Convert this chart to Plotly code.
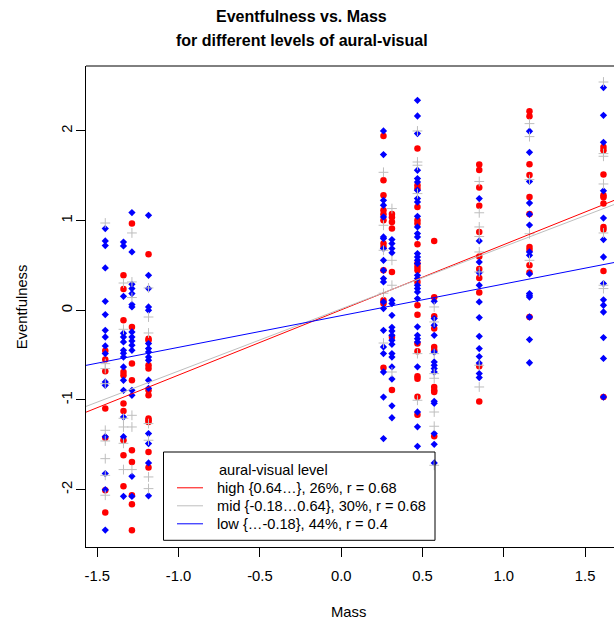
import plotly.graph_objects as go

# ---------------- data ----------------
mass_levels = [-1.451, -1.339, -1.287, -1.185, 0.260, 0.312, 0.469, 0.572, 0.849, 1.158, 1.613]

high_vals = [
    [-0.45, -0.55, -0.68, -1.096, -1.42, -2.007, -2.255],
    [0.39, 0.237, -0.111, -0.688, -0.725, -1.04, -1.123, -1.449, -1.617, -1.962],
    [0.967, -0.186, -0.594, -0.78, -1.561, -1.691, -2.062, -2.163, -2.453],
    [0.624, -0.316, -0.334, -0.613, -0.65, -0.892, -0.948, -1.207, -1.226, -1.245, -1.58, -1.754],
    [1.943, 1.449, 1.282, 1.115, 1.07, 1.003, 0.744, 0.706, 0.446, 0.111, 0.075, -0.641],
    [1.074, 1.037, 0.984, 0.911, 0.427, -0.298, -0.889],
    [1.803, 1.394, 1.357, 1.152, 1.003, 0.967, 0.736, 0.521, 0.483, 0.446, 0.316, 0.056, -0.05,
     -0.371, -0.457, -0.736, -0.764, -0.964, -1.165],
    [0.773, 0.145, -0.067, -0.204, -0.409, -0.446, -0.855, -0.892, -0.911, -1.405],
    [1.625, 1.564, 1.368, 1.165, 0.873, 0.6, 0.459, 0.359, 0.198, -0.624, -1.018],
    [2.219, 2.163, 1.628, 1.507, 1.263, 1.074, 0.706, 0.672, 0.502, 0.421, -0.075],
    [1.821, 1.784, 1.513, 1.282, 1.26, 1.19, 0.929, 0.9, 0.438, -0.967],
]

mid_vals = [
    [0.973, -0.595, -0.65, -0.818, -1.338, -1.457, -1.654, -1.84, -2.062],
    [0.304, -0.212, -1.204, -1.301, -1.483, -1.776],
    [0.862, 0.316, 0.142, -1.171, -1.301, -1.776],
    [0.249, -0.075, -0.253, -1.263, -1.449, -1.858, -1.988],
    [1.538, 0.948, 0.669, 0.19, -0.365],
    [1.134, 0.557, 0.279, -0.688],
    [1.999, 1.653, 1.617, 1.301, -0.483, -1.003],
    [0.037, -0.13, -0.483, -0.706, -0.758, -1.134, -1.293, -1.728],
    [1.436, 1.087, 0.929, 0.822, 0.65, 0.427, -0.613, -0.855],
    [2.081, 1.936, 1.457, 0.853, 0.557],
    [2.545, 1.747, 1.717, 1.408, 0.862, 0.279, 0.242],
]

low_vals = [
    [0.911, 0.773, 0.721, 0.472, 0.1, -0.048, -0.223, -0.298, -0.398, -0.483, -0.799, -0.836,
     -1.41, -1.82, -2.0, -2.45],
    [0.761, 0.717, 0.156, -0.256, -0.298, -0.353, -0.446, -0.479, -0.521, -0.632, -0.78, -0.892,
     -1.19, -1.41, -2.074],
    [1.089, 0.65, 0.29, 0.242, 0.186, 0.064, 0.037, -0.242, -0.298, -0.342, -0.39, -0.446,
     -0.892, -0.948, -1.851, -2.074],
    [1.059, 0.39, 0.242, 0.037, 0.0, -0.371, -0.427, -0.465, -0.521, -0.557, -0.78, -0.87,
     -1.375, -1.486, -1.702, -2.068],
    [1.999, 1.736, 1.226, 1.171, 1.04, 0.817, 0.799, 0.688, 0.557, 0.446, 0.353, 0.316, 0.093,
     0.019, -0.223, -0.409, -0.483, -0.688, -0.967, -1.43],
    [0.788, 0.744, 0.688, 0.641, 0.111, 0.075, -0.056, -0.19, -0.231, -0.279, -0.334, -0.379,
     -0.483, -0.521, -0.632, -0.766, -1.065, -1.198],
    [2.341, 2.166, 1.97, 1.561, 1.468, 1.43, 1.338, 1.245, 1.207, 1.048, 0.929, 0.855, 0.817,
     0.632, 0.594, 0.557, 0.521, 0.39, 0.353, 0.279, 0.242, 0.204, 0.13, -0.184, -0.279, -0.316,
     -0.353, -0.63, -1.134, -1.299, -1.516],
    [0.1, -0.093, -0.167, -0.279, -0.465, -0.576, -0.613, -0.65, -0.688, -1.015, -1.037, -1.375,
     -1.494, -1.702],
    [1.245, 0.773, 0.538, 0.418, 0.279, 0.093, -0.081, -0.29, -0.427, -0.516, -0.588, -0.706, -0.75],
    [1.996, 1.761, 1.436, 1.196, 1.07, 0.95, 0.65, 0.613, 0.405, 0.186, 0.167, 0.148, -0.075,
     -0.327, -0.585],
    [2.483, 2.174, 1.873, 1.332, 1.028, 0.788, 0.594, 0.298, 0.117, 0.056, -0.019, -0.304,
     -0.537, -0.967],
]

group_names = ["high", "mid", "low"]
legend_labels = ["high {0.64…}, 26%, r = 0.68",
                 "mid {-0.18…0.64}, 30%, r = 0.68",
                 "low {…-0.18}, 44%, r = 0.4"]
fit_slope = [0.727, 0.693, 0.353]
fit_intercept = [0.005, 0.016, -0.060]

x_tickvals = [-1.5, -1.0, -0.5, 0.0, 0.5, 1.0, 1.5]
x_ticktext = ["-1.5", "-1.0", "-0.5", "0.0", "0.5", "1.0", "1.5"]
y_tickvals = [-2, -1, 0, 1, 2]
y_ticktext = ["-2", "-1", "0", "1", "2"]

title_lines = ["Eventfulness vs. Mass", "for different levels of aural-visual"]
x_title = "Mass"
y_title = "Eventfulness"
legend_title = "aural-visual level"

# ---------------- styling ----------------
W, H = 614, 620
L, R, T, B = 86, 0, 65.7, 73.3
PW, PH = W - L - R, H - T - B
XR = [-1.5695, -1.5695 + PW / 162.6]
YR = [-2.639, -2.639 + PH / 89.7]

colors = {"high": "#FF0000", "mid": "#BEBEBE", "low": "#0000FF"}
FONT = "Liberation Sans, Arial, Helvetica, sans-serif"


def px(xp):
    return (xp - L) / PW


def py(yp):
    return (H - B - yp) / PH


def flatten(vals):
    xs, ys = [], []
    for xv, col in zip(mass_levels, vals):
        for v in col:
            xs.append(xv)
            ys.append(v)
    return xs, ys


fig = go.Figure()

hx, hy = flatten(high_vals)
mx, my = flatten(mid_vals)
lx, ly = flatten(low_vals)

fig.add_trace(go.Scatter(x=hx, y=hy, mode="markers", name="high",
                         marker=dict(symbol="circle", size=6.5, color=colors["high"], line=dict(width=0))))
fig.add_trace(go.Scatter(x=lx, y=ly, mode="markers", name="low",
                         marker=dict(symbol="diamond", size=5.6, color=colors["low"], line=dict(width=0))))
fig.add_trace(go.Scatter(x=mx, y=my, mode="markers", name="mid",
                         marker=dict(symbol="cross-thin", size=7, color=colors["mid"],
                                     line=dict(width=1, color=colors["mid"]))))

# regression lines
for g, s, b in zip(group_names, fit_slope, fit_intercept):
    fig.add_trace(go.Scatter(x=XR, y=[b + s * XR[0], b + s * XR[1]], mode="lines",
                             line=dict(color=colors[g], width=1), hoverinfo="skip"))

shapes = [
    # top border of the box
    dict(type="line", xref="paper", yref="paper", x0=0, x1=1, y0=1, y1=1,
         line=dict(color="black", width=1)),
    # legend box
    dict(type="rect", xref="paper", yref="paper", x0=px(163.5), x1=px(435), y0=py(451.7), y1=py(540),
         line=dict(color="black", width=1), fillcolor="rgba(0,0,0,0)", layer="above"),
]
annotations = []
for i, (g, lab) in enumerate(zip(group_names, legend_labels)):
    yy = 487.5 + i * 18
    shapes.append(dict(type="line", xref="paper", yref="paper", x0=px(177), x1=px(203),
                       y0=py(yy), y1=py(yy), line=dict(color=colors[g], width=1)))
    annotations.append(dict(text=lab, xref="paper", yref="paper", x=px(215), y=py(yy),
                            xanchor="left", yanchor="middle", showarrow=False,
                            font=dict(family=FONT, size=14.6, color="black")))
annotations.append(dict(text=legend_title, xref="paper", yref="paper", x=px(217), y=py(469.5),
                        xanchor="left", yanchor="middle", showarrow=False,
                        font=dict(family=FONT, size=14.6, color="black")))

# titles
for i, t in enumerate(title_lines):
    annotations.append(dict(text="<b>" + t + "</b>", xref="paper", yref="paper", x=px(301.5),
                            y=py(16.7 + 24 * i), xanchor="center", yanchor="middle", showarrow=False,
                            font=dict(family=FONT, size=16, color="black")))
annotations.append(dict(text=x_title, xref="paper", yref="paper", x=px(348), y=py(611.5),
                        xanchor="center", yanchor="middle", showarrow=False,
                        font=dict(family=FONT, size=14.8, color="black")))
annotations.append(dict(text=y_title, xref="paper", yref="paper", x=px(22), y=py(307),
                        xanchor="center", yanchor="middle", showarrow=False, textangle=-90,
                        font=dict(family=FONT, size=14.8, color="black")))

fig.update_layout(
    width=W, height=H,
    margin=dict(l=L, r=R, t=T, b=B, pad=0),
    paper_bgcolor="white", plot_bgcolor="white",
    showlegend=False,
    shapes=shapes, annotations=annotations,
    font=dict(family=FONT, size=14.8, color="black"),
)
fig.update_xaxes(range=XR, tickvals=x_tickvals, ticktext=x_ticktext, showgrid=False, zeroline=False,
                 showline=True, linecolor="black", linewidth=1, ticks="outside", ticklen=9,
                 tickcolor="black", tickwidth=1, ticklabelstandoff=6,
                 tickfont=dict(family=FONT, size=14.8, color="black"))
fig.update_yaxes(range=YR, tickvals=y_tickvals, ticktext=y_ticktext, showgrid=False, zeroline=False,
                 showline=True, linecolor="black", linewidth=1, ticks="outside", ticklen=9,
                 tickcolor="black", tickwidth=1, tickangle=-90, ticklabelstandoff=-2,
                 tickfont=dict(family=FONT, size=14.8, color="black"))

fig.write_html("out.html")
